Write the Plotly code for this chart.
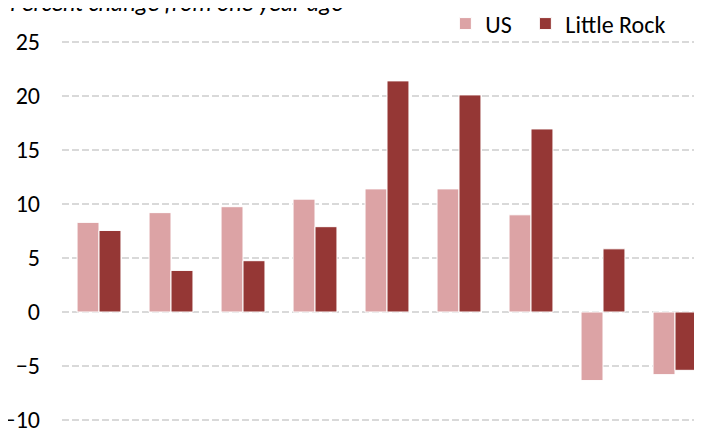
import plotly.graph_objects as go

categories = ["1", "2", "3", "4", "5", "6", "7", "8", "9"]
us_values = [8.3, 9.2, 9.75, 10.45, 11.4, 11.4, 9.0, -6.35, -5.8]
lr_values = [7.55, 3.85, 4.75, 7.9, 21.4, 20.1, 16.95, 5.85, -5.4]
tick_vals = [-10, -5, 0, 5, 10, 15, 20, 25]

FONT = "Carlito, Calibri, 'Liberation Sans Narrow', 'DejaVu Sans Condensed', sans-serif"

fig = go.Figure()
fig.add_trace(go.Bar(x=list(range(len(categories))), y=us_values, name="US",
                     legend="legend",
                     marker=dict(color="#DCA3A5", line=dict(color="white", width=1))))
fig.add_trace(go.Bar(x=list(range(len(categories))), y=lr_values, name="Little Rock",
                     legend="legend2",
                     marker=dict(color="#953735", line=dict(color="white", width=1))))

leg_common = dict(orientation="h", xanchor="left", yanchor="middle",
                  font=dict(size=24, family=FONT), bgcolor="rgba(0,0,0,0)",
                  itemwidth=30)

fig.update_layout(
    width=702, height=429,
    margin=dict(l=54, r=8, t=29, b=15, autoexpand=False),
    paper_bgcolor="white", plot_bgcolor="white",
    barmode="group", bargap=0.39, bargroupgap=0,
    font=dict(family=FONT, size=24, color="#000000"),
    xaxis=dict(range=[-0.514, 8.375], showticklabels=False, showgrid=False,
               zeroline=False, showline=False, ticks=""),
    yaxis=dict(range=[-10.185, 25.463], tickvals=tick_vals, showgrid=True,
               gridcolor="#D9D9D9", griddash="7px,3px", gridwidth=1.5,
               zeroline=False, showline=False, ticks="", ticklabelstandoff=21,
               tickfont=dict(size=24), automargin=False),
    showlegend=True,
    legend=dict(x=0.599, y=1.0338, **leg_common),
    legend2=dict(x=0.724, y=1.0338, **leg_common),
    annotations=[dict(text="<i>Percent change from one year ago</i>", xref="paper", yref="paper",
                      x=-0.084, y=1.0905, xanchor="left", yanchor="middle", showarrow=False,
                      font=dict(size=24, family=FONT))],
)

fig.write_html("out.html")
